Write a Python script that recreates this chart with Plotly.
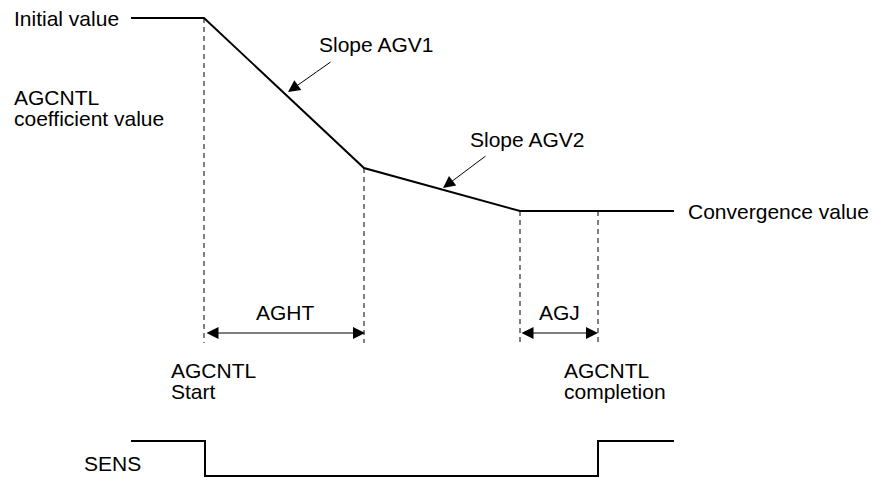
import plotly.graph_objects as go

# Diagram data (time axis runs left to right, level axis top to bottom)
curve_t = [131, 204, 364, 520, 674]
curve_level = [18, 18, 168, 211, 211]

sens_t = [131, 205, 205, 598, 598, 674]
sens_level = [441, 441, 476, 476, 441, 441]

guide_t = [204, 364, 520, 598]
guide_top = [18, 168, 211, 211]
guide_bottom = 343

span_start = [205, 520]
span_end = [365, 598]
span_level = 333
span_labels = ["AGHT", "AGJ"]

FONT = dict(family="Liberation Sans, Arial, sans-serif", size=21, color="black")
ARROW = dict(showarrow=True, arrowhead=2, arrowsize=2.4, arrowwidth=1,
             arrowcolor="black", text="", standoff=0)

fig = go.Figure()

# dashed guide lines
for t, top in zip(guide_t, guide_top):
    fig.add_trace(go.Scatter(
        x=[t, t], y=[top, guide_bottom], mode="lines",
        line=dict(color="black", width=1, dash="5px,4px"),
        hoverinfo="skip"
    ))

# coefficient curve
fig.add_trace(go.Scatter(
    x=curve_t, y=curve_level, mode="lines",
    line=dict(color="black", width=2),
    hoverinfo="skip"
))

# SENS signal
fig.add_trace(go.Scatter(
    x=sens_t, y=sens_level, mode="lines",
    line=dict(color="black", width=2),
    hoverinfo="skip"
))

# double-headed span arrows with labels
for s, e, lab in zip(span_start, span_end, span_labels):
    fig.add_annotation(x=e, y=span_level, ax=s, ay=span_level, axref="x", ayref="y",
                       arrowside="end+start", startstandoff=0, **ARROW)
    fig.add_annotation(x=(s + e) / 2, y=312, text=lab, showarrow=False, font=FONT)

# slope pointer arrows
fig.add_annotation(x=288, y=92, ax=332, ay=61, axref="x", ayref="y", **ARROW)
fig.add_annotation(x=443, y=188, ax=487, ay=155, axref="x", ayref="y", **ARROW)

# text labels
labels = [
    (121, 18, "Initial value", "right"),
    (12, 97, "AGCNTL", "left"),
    (12, 118, "coefficient value", "left"),
    (317, 44, "Slope AGV1", "left"),
    (468, 139, "Slope AGV2", "left"),
    (686, 211, "Convergence value", "left"),
    (169, 370, "AGCNTL", "left"),
    (169, 391, "Start", "left"),
    (562, 370, "AGCNTL", "left"),
    (562, 391, "completion", "left"),
    (82, 463, "SENS", "left"),
]
for x, y, txt, anchor in labels:
    fig.add_annotation(x=x, y=y, text=txt, showarrow=False,
                       xanchor=anchor, yanchor="middle", font=FONT)

fig.update_layout(
    width=874, height=477,
    margin=dict(l=0, r=0, t=0, b=0),
    showlegend=False,
    plot_bgcolor="white", paper_bgcolor="white",
    xaxis=dict(range=[0, 874], visible=False, fixedrange=True),
    yaxis=dict(range=[477, 0], visible=False, fixedrange=True),
)

fig.write_html(
    "out.html",
    config={"displayModeBar": False},
    post_script="document.body.style.margin='0';document.body.style.overflow='hidden';",
)
